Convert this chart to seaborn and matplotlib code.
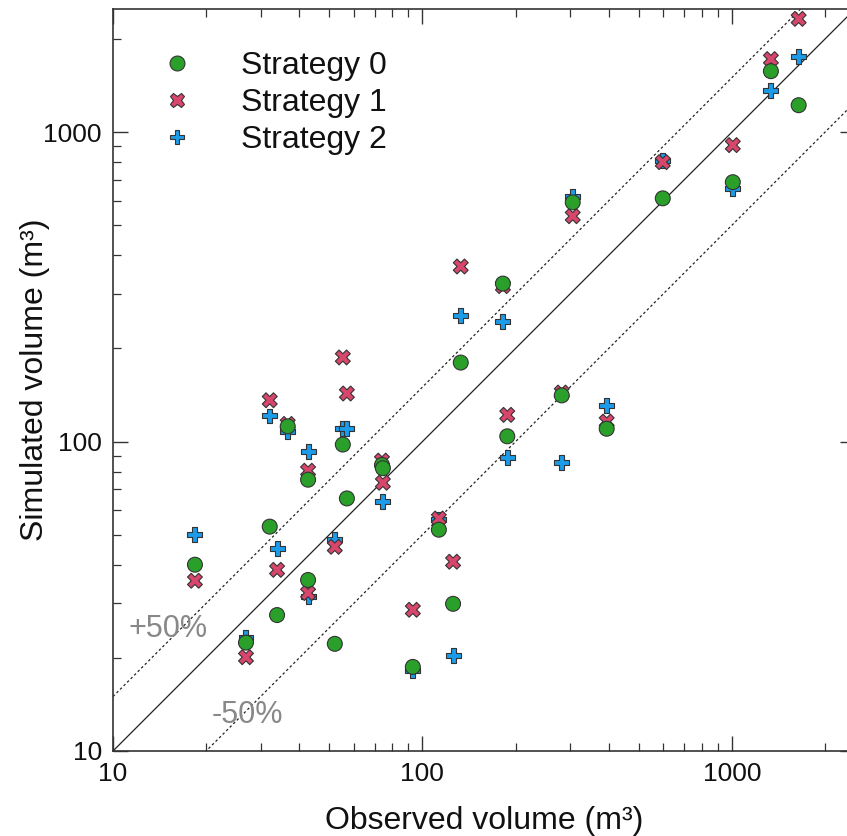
import numpy as np
import pandas as pd
import matplotlib
matplotlib.use("Agg")
import matplotlib.pyplot as plt
import seaborn as sns
from matplotlib.ticker import LogLocator, FixedFormatter, FixedLocator, NullFormatter

# ---- data ----
observed = [18.4, 26.9, 32.1, 33.9, 36.7, 42.7, 42.7, 52.1, 55.3, 57.0,
            74.0, 74.5, 93.1, 113, 125.6, 133, 182, 188, 282, 306,
            394, 598, 1007, 1337, 1644]
strategy0 = [40, 22.4, 53.1, 27.5, 112, 75.3, 35.7, 22.2, 97.8, 65.5,
             84, 82, 18.7, 51.9, 29.9, 180, 324, 104, 141, 593,
             110, 611, 689, 1574, 1222]
strategy1 = [35.5, 20.1, 136, 38.5, 114, 80.5, 32.4, 45.7, 187, 143,
             86.8, 73.6, 28.6, 56.4, 40.9, 368, 318, 122, 144, 535,
             116, 800, 908, 1722, 2323]
strategy2 = [50, 23.2, 121, 45.1, 108, 92.9, 31.5, 48.2, 110, 110,
             84, 64, 18.2, 56, 20.4, 256, 244, 88.7, 85.5, 621,
             131, 810, 659, 1367, 1750]
strategies = ["Strategy 0", "Strategy 1", "Strategy 2"]
ref_ratios = [1.0, 1.5, 0.5]
ref_styles = ["-", (0, (2, 2)), (0, (2, 2))]
axis_ticks = [10, 100, 1000]
axis_ticklabels = ["10", "100", "1000"]
limits = [10, 2500]

colors = {"Strategy 0": "#2aa02a", "Strategy 1": "#d8466c", "Strategy 2": "#1b9be8"}
markers = {"Strategy 0": "o", "Strategy 1": "X", "Strategy 2": "P"}

# draw order: Strategy 2 (bottom), Strategy 1, Strategy 0 (top)
frames = []
for name, vals in [("Strategy 2", strategy2), ("Strategy 1", strategy1), ("Strategy 0", strategy0)]:
    frames.append(pd.DataFrame({"observed": observed, "simulated": vals, "strategy": name}))
df = pd.concat(frames, ignore_index=True)

sns.set_style("ticks")
plt.rcParams["font.family"] = ["Liberation Sans", "DejaVu Sans"]
plt.rcParams["text.color"] = "#111111"
plt.rcParams["axes.labelcolor"] = "#111111"
plt.rcParams["xtick.labelcolor"] = "#111111"
plt.rcParams["ytick.labelcolor"] = "#111111"

fig = plt.figure(figsize=(8.47, 8.36), dpi=100)
W, H = 847, 836
ax = fig.add_axes([113 / W, (H - 751) / H, 742 / W, 742 / H])

xs = np.array(limits, dtype=float)
for r, ls in zip(ref_ratios, ref_styles):
    ax.plot(xs, xs * r, color="#222222", lw=0.9, ls=ls, zorder=1)

sns.scatterplot(data=df, x="observed", y="simulated", hue="strategy", style="strategy",
                hue_order=strategies, style_order=strategies,
                palette=colors, markers=markers, s=115, edgecolor="#333333",
                linewidth=0.8, ax=ax, zorder=3, legend=True)

ax.set_xscale("log")
ax.set_yscale("log")
ax.set_xlim(limits)
ax.set_ylim(limits)

for axis in (ax.xaxis, ax.yaxis):
    axis.set_major_locator(FixedLocator(axis_ticks))
    axis.set_major_formatter(FixedFormatter(axis_ticklabels))
    axis.set_minor_locator(LogLocator(base=10, subs=np.arange(2, 10)))
    axis.set_minor_formatter(NullFormatter())

ax.tick_params(which="both", direction="in", top=True, right=True, color="#333333")
ax.tick_params(which="major", length=11, width=1.0, labelsize=19, pad=8)
ax.tick_params(which="minor", length=6, width=0.9)
for sp in ax.spines.values():
    sp.set_linewidth(1.2)
    sp.set_color("#333333")

ax.set_xlabel("Observed volume (m³)", fontsize=23, labelpad=14)
ax.set_ylabel("Simulated volume (m³)", fontsize=23, labelpad=-5)

ax.text(11.2, 24.8, "+50%", fontsize=22, color="#888888", ha="left", va="center")
ax.text(20.9, 13.1, "-50%", fontsize=22, color="#888888", ha="left", va="center")

handles, labels = ax.get_legend_handles_labels()
leg = ax.legend(handles, labels, loc="upper left", bbox_to_anchor=(0.065, 0.943),
                frameon=False, fontsize=23, handlelength=1.0, handletextpad=1.5,
                labelspacing=0.22, borderpad=0, borderaxespad=0, markerscale=1.0)
for h in leg.legend_handles:
    try:
        h.set_edgecolor("#333333")
    except Exception:
        pass

fig.savefig("out.png", dpi=100)
